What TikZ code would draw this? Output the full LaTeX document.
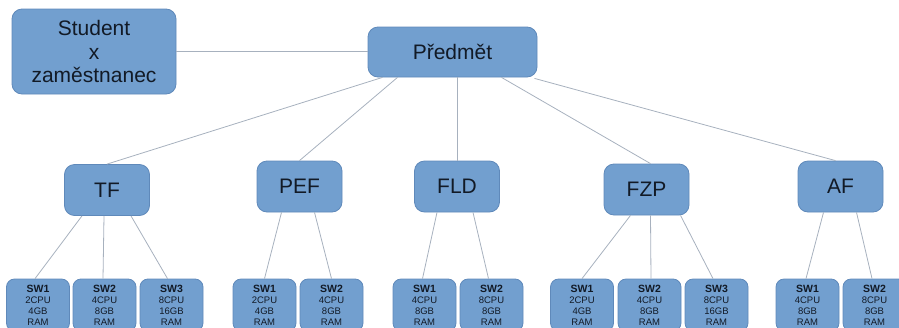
\documentclass[tikz,border=0pt]{standalone}
\usepackage{fontspec}
\setmainfont{Liberation Sans}
\usepackage{xcolor}
\usepackage{tikz}
\usetikzlibrary{positioning}
\definecolor{boxfill}{HTML}{729FCF}
\definecolor{boxline}{HTML}{5F89BA}
\definecolor{linkgray}{HTML}{A7B1BE}
\definecolor{boxtext}{HTML}{121A26}

\begin{document}
\begin{tikzpicture}[x=1pt,y=-1pt,
                    box/.style={draw=boxline, fill=boxfill, line width=0.8pt, rounded corners=10pt,
                                text=boxtext, align=center, inner sep=0pt,
                                font=\fontsize{21}{23.5}\selectfont},
                    bigbox/.style={box, minimum width=169pt, minimum height=50pt},
                    fac/.style={box, minimum width=85pt, minimum height=51pt},
                    sw/.style={box, rounded corners=8pt, minimum width=63pt, minimum height=52pt,
                               font=\fontsize{9.5}{11}\selectfont},
                    link/.style={linkgray, line width=0.8pt},
                   ]

\useasboundingbox (0,0) rectangle (899,327);
\clip (0,0) rectangle (899,327);

% top row
\node[box, minimum width=164pt, minimum height=85pt] (stud) at (94,51.5) {Student\\x\\zaměstnanec};
\node[bigbox] (pred) at (452.5,52) {Předmět};

% faculties
\node[fac] (tf)  at (107,190)   {TF};
\node[fac] (pef) at (299.5,186.5) {PEF};
\node[fac] (fld) at (457,186.5) {FLD};
\node[fac] (fzp) at (646.5,189.5) {FZP};
\node[fac] (af)  at (840.5,186.5) {AF};

% servers
\node[sw] (tf1)  at (38,305)    {\textbf{\fontsize{10.5}{11}\selectfont SW1}\\2CPU\\4GB\\RAM};
\node[sw] (tf2)  at (104.5,305) {\textbf{\fontsize{10.5}{11}\selectfont SW2}\\4CPU\\8GB\\RAM};
\node[sw] (tf3)  at (171.5,305) {\textbf{\fontsize{10.5}{11}\selectfont SW3}\\8CPU\\16GB\\RAM};
\node[sw] (pef1) at (264.5,305) {\textbf{\fontsize{10.5}{11}\selectfont SW1}\\2CPU\\4GB\\RAM};
\node[sw] (pef2) at (331.5,305) {\textbf{\fontsize{10.5}{11}\selectfont SW2}\\4CPU\\8GB\\RAM};
\node[sw] (fld1) at (424.5,305) {\textbf{\fontsize{10.5}{11}\selectfont SW1}\\4CPU\\8GB\\RAM};
\node[sw] (fld2) at (491.5,305) {\textbf{\fontsize{10.5}{11}\selectfont SW2}\\8CPU\\8GB\\RAM};
\node[sw] (fzp1) at (582,305)   {\textbf{\fontsize{10.5}{11}\selectfont SW1}\\2CPU\\4GB\\RAM};
\node[sw] (fzp2) at (649.5,305) {\textbf{\fontsize{10.5}{11}\selectfont SW2}\\4CPU\\8GB\\RAM};
\node[sw] (fzp3) at (716.5,305) {\textbf{\fontsize{10.5}{11}\selectfont SW3}\\8CPU\\16GB\\RAM};
\node[sw] (af1)  at (807.5,305) {\textbf{\fontsize{10.5}{11}\selectfont SW1}\\4CPU\\8GB\\RAM};
\node[sw] (af2)  at (874.5,305) {\textbf{\fontsize{10.5}{11}\selectfont SW2}\\8CPU\\8GB\\RAM};

% links
\draw[link] (stud.east) -- (stud.east -| pred.west);

\draw[link] ([xshift=-70pt]pred.south) -- (tf.north);
\draw[link] ([xshift=-55pt]pred.south) -- (pef.north);
\draw[link] ([xshift=4.5pt]pred.south) -- (fld.north);
\draw[link] ([xshift=49pt]pred.south) -- ([xshift=4pt]fzp.north);
\draw[link] ([xshift=82pt,yshift=-1pt]pred.south) -- ([xshift=-5pt]af.north);

\draw[link] ([xshift=-25pt]tf.south) -- ([xshift=-3pt]tf1.north);
\draw[link] ([xshift=-3pt]tf.south) -- ([xshift=-1.5pt]tf2.north);
\draw[link] ([xshift=24pt]tf.south) -- ([xshift=-4pt]tf3.north);
\draw[link] ([xshift=-18pt]pef.south) -- (pef1.north);
\draw[link] ([xshift=15pt]pef.south) -- (pef2.north);
\draw[link] ([xshift=-20pt]fld.south) -- ([xshift=-2pt]fld1.north);
\draw[link] ([xshift=16pt]fld.south) -- ([xshift=-3pt]fld2.north);
\draw[link] ([xshift=-16pt]fzp.south) -- (fzp1.north);
\draw[link] ([xshift=4pt]fzp.south) -- ([xshift=1.5pt]fzp2.north);
\draw[link] ([xshift=34pt]fzp.south) -- ([xshift=-3.5pt]fzp3.north);
\draw[link] ([xshift=-17pt]af.south) -- ([xshift=-1.5pt]af1.north);
\draw[link] ([xshift=16pt]af.south) -- ([xshift=-2.5pt]af2.north);

\end{tikzpicture}
\end{document}
